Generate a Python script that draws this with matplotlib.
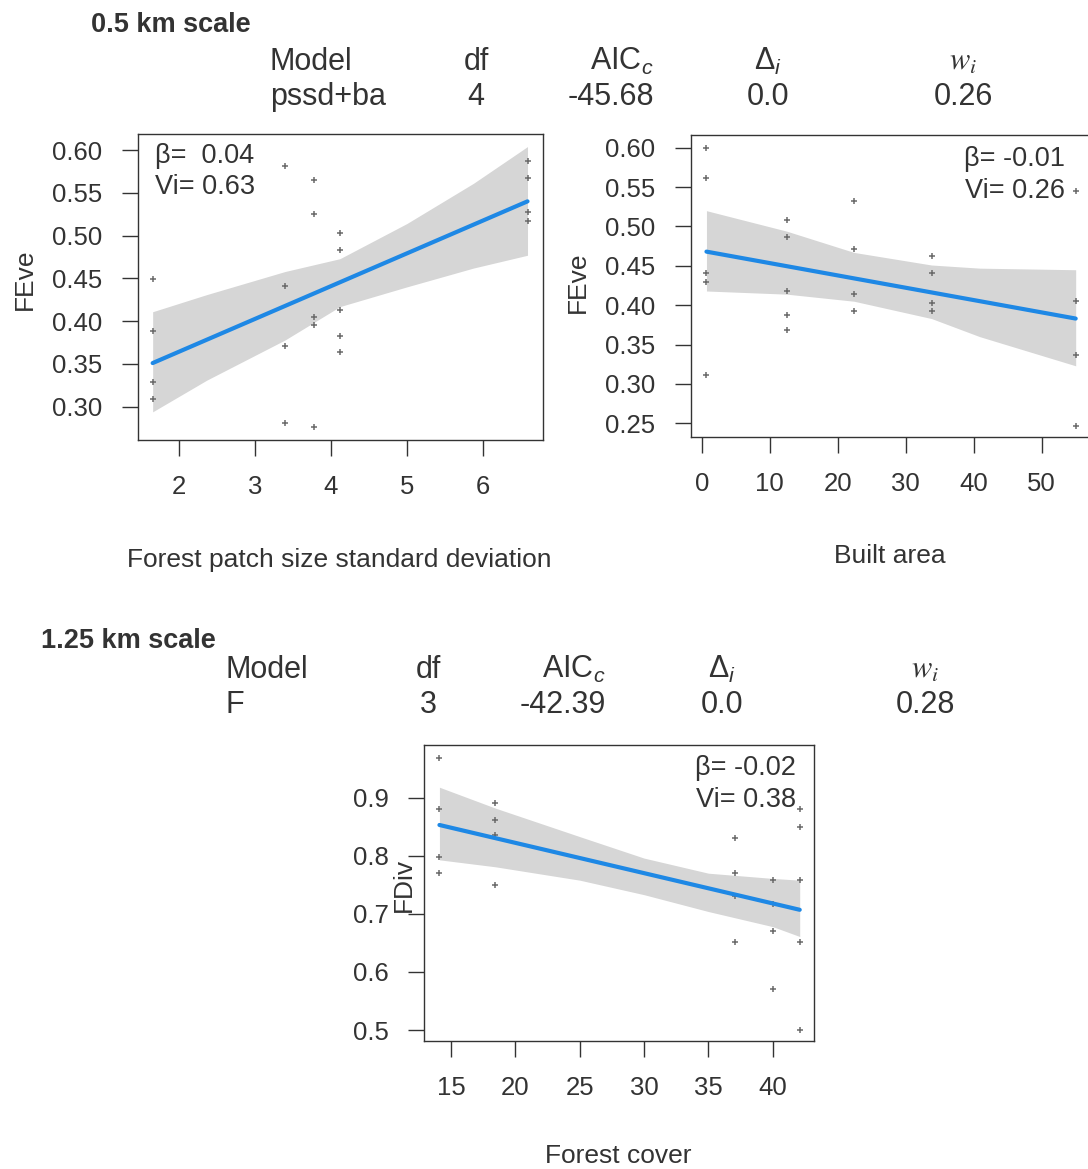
import matplotlib
matplotlib.use("Agg")
import matplotlib.pyplot as plt

# ---------------- data ----------------
# Panel 1 (0.5 km): FEve vs forest patch size standard deviation
p1_x = [1.66, 1.66, 1.66, 1.66,
        3.40, 3.40, 3.40, 3.40,
        3.78, 3.78, 3.78, 3.78, 3.78,
        4.12, 4.12, 4.12, 4.12, 4.12,
        6.59, 6.59, 6.59, 6.59]
p1_y = [0.449, 0.389, 0.329, 0.309,
        0.581, 0.441, 0.371, 0.281,
        0.565, 0.525, 0.405, 0.396, 0.276,
        0.503, 0.483, 0.413, 0.383, 0.364,
        0.587, 0.567, 0.527, 0.517]
p1_fit_x = [1.653, 6.59]
p1_fit_y = [0.351, 0.540]
p1_band_x = [1.653, 2.365, 3.397, 4.12, 5.0, 5.877, 6.59]
p1_band_hi = [0.411, 0.431, 0.458, 0.473, 0.514, 0.561, 0.604]
p1_band_lo = [0.294, 0.331, 0.378, 0.417, 0.440, 0.462, 0.477]
p1_xticks = [2, 3, 4, 5, 6]
p1_yticks = [0.30, 0.35, 0.40, 0.45, 0.50, 0.55, 0.60]

# Panel 2 (0.5 km): FEve vs built area
p2_x = [0.7, 0.7, 0.7, 0.7, 0.7,
        12.5, 12.5, 12.5, 12.5, 12.5,
        22.4, 22.4, 22.4, 22.4,
        33.8, 33.8, 33.8, 33.8,
        55.0, 55.0, 55.0, 55.0]
p2_y = [0.600, 0.562, 0.441, 0.430, 0.311,
        0.508, 0.486, 0.418, 0.388, 0.369,
        0.532, 0.471, 0.414, 0.392,
        0.463, 0.441, 0.403, 0.392,
        0.545, 0.405, 0.337, 0.247]
p2_fit_x = [0.7, 55.0]
p2_fit_y = [0.468, 0.383]
p2_band_x = [0.7, 12.5, 22.4, 33.8, 40.9, 55.0]
p2_band_hi = [0.520, 0.494, 0.467, 0.451, 0.447, 0.445]
p2_band_lo = [0.418, 0.414, 0.405, 0.383, 0.360, 0.323]
p2_xticks = [0, 10, 20, 30, 40, 50]
p2_yticks = [0.25, 0.30, 0.35, 0.40, 0.45, 0.50, 0.55, 0.60]

# Panel 3 (1.25 km): FDiv vs forest cover
p3_x = [14.1, 14.1, 14.1, 14.1,
        18.45, 18.45, 18.45, 18.45,
        37.1, 37.1, 37.1, 37.1,
        40.0, 40.0, 40.0, 40.0,
        42.1, 42.1, 42.1, 42.1, 42.1]
p3_y = [0.968, 0.880, 0.798, 0.770,
        0.890, 0.861, 0.836, 0.750,
        0.830, 0.770, 0.731, 0.651,
        0.758, 0.717, 0.671, 0.571,
        0.880, 0.849, 0.758, 0.651, 0.500]
p3_fit_x = [14.1, 42.1]
p3_fit_y = [0.853, 0.707]
p3_band_x = [14.1, 18.45, 25, 30, 35, 40, 42.1]
p3_band_hi = [0.918, 0.882, 0.833, 0.796, 0.770, 0.761, 0.758]
p3_band_lo = [0.793, 0.781, 0.758, 0.733, 0.704, 0.678, 0.661]
p3_xticks = [15, 20, 25, 30, 35, 40]
p3_yticks = [0.5, 0.6, 0.7, 0.8, 0.9]

# Model-selection tables
table_head = ["Model", "df", "AIC$_c$", "Δ$_i$", "$w_i$"]
table1_row = ["pssd+ba", "4", "-45.68", "0.0", "0.26"]
table2_row = ["F", "3", "-42.39", "0.0", "0.28"]
stats1 = ["β=  0.04", "Vi= 0.63"]
stats2 = ["β= -0.01", "Vi= 0.26"]
stats3 = ["β= -0.02", "Vi= 0.38"]

# ---------------- styling ----------------
W, H = 1088, 1169
plt.rcParams['font.family'] = ['Liberation Sans', 'DejaVu Sans']
plt.rcParams['mathtext.fontset'] = 'custom'
plt.rcParams['mathtext.rm'] = 'Liberation Sans'
plt.rcParams['mathtext.it'] = 'Liberation Sans:italic'
plt.rcParams['mathtext.bf'] = 'Liberation Sans:bold'

TXT = '#333333'
LINE = '#1E88E5'
BAND = '#D6D6D6'
PT = '#6a6a6a'
FS = 18.5      # tick labels
LFS = 19       # axis labels
SFS = 19.5     # stats annotations
TFS = 22       # table text
HFS = 19.5     # section titles

fig = plt.figure(figsize=(W / 100, H / 100), dpi=100)


def ax_px(L, R, T, B):
    return fig.add_axes([L / W, 1 - B / H, (R - L) / W, (B - T) / H])


def ftext(x, y, s, **kw):
    kw.setdefault('color', TXT)
    return fig.text(x / W, 1 - y / H, s, **kw)


def panel(ax, xs, ys, fx, fy, bx, bhi, blo, xt, yt, yfmt, xlim, ylim):
    ax.fill_between(bx, blo, bhi, color=BAND, lw=0, zorder=1)
    ax.plot(fx, fy, color=LINE, lw=3.0, solid_capstyle='round', zorder=3)
    ax.plot(xs, ys, ls='none', marker='+', ms=4, mew=1.1, color=PT, zorder=2)
    ax.set_xlim(*xlim)
    ax.set_ylim(*ylim)
    ax.set_xticks(xt)
    ax.set_xticklabels([str(v) for v in xt])
    ax.set_yticks(yt)
    ax.set_yticklabels([yfmt.format(v) for v in yt])
    ax.tick_params(length=11.5, width=1.0, pad=14, color=TXT,
                   labelcolor=TXT, labelsize=FS, direction='out')
    for s in ax.spines.values():
        s.set_color(TXT)
        s.set_linewidth(1.0)


ax1 = ax_px(138, 543, 134, 440)
panel(ax1, p1_x, p1_y, p1_fit_x, p1_fit_y, p1_band_x, p1_band_hi, p1_band_lo,
      p1_xticks, p1_yticks, "{:.2f}", (1.46, 6.794), (0.2611, 0.6187))

ax2 = ax_px(691, 1092, 135, 437)
panel(ax2, p2_x, p2_y, p2_fit_x, p2_fit_y, p2_band_x, p2_band_hi, p2_band_lo,
      p2_xticks, p2_yticks, "{:.2f}", (-1.574, 57.4), (0.2326, 0.6161))

ax3 = ax_px(424, 814, 745, 1041)
panel(ax3, p3_x, p3_y, p3_fit_x, p3_fit_y, p3_band_x, p3_band_hi, p3_band_lo,
      p3_xticks, p3_yticks, "{:.1f}", (12.90, 43.21), (0.4811, 0.9907))

# axis labels
ftext(339, 567, "Forest patch size standard deviation", fontsize=LFS, ha='center', va='baseline')
ftext(890, 563, "Built area", fontsize=LFS, ha='center', va='baseline')
ftext(618, 1163, "Forest cover", fontsize=LFS, ha='center', va='baseline')
ftext(25, 279, "FEve", fontsize=LFS, rotation=90, ha='center', va='center')
ftext(578, 282, "FEve", fontsize=LFS, rotation=90, ha='center', va='center')
ftext(404, 885, "FDiv", fontsize=LFS, rotation=90, ha='center', va='center')

# stats annotations
ftext(155, 163, stats1[0], fontsize=SFS, ha='left', va='baseline')
ftext(155, 194, stats1[1], fontsize=SFS, ha='left', va='baseline')
ftext(1065, 166, stats2[0], fontsize=SFS, ha='right', va='baseline')
ftext(1065, 198, stats2[1], fontsize=SFS, ha='right', va='baseline')
ftext(796, 775, stats3[0], fontsize=SFS, ha='right', va='baseline')
ftext(796, 807, stats3[1], fontsize=SFS, ha='right', va='baseline')

# section titles
ftext(91, 32, "0.5 km scale", fontsize=HFS, fontweight='bold', ha='left', va='baseline')
ftext(41, 648, "1.25 km scale", fontsize=HFS, fontweight='bold', ha='left', va='baseline')


def table(xs, aligns, y_head, y_row, row):
    for i, (x, al) in enumerate(zip(xs, aligns)):
        kw = dict(fontsize=TFS, ha=al, va='baseline')
        if i == 4:
            kw['math_fontfamily'] = 'stix'
        ftext(x, y_head, table_head[i], **kw)
        ftext(x, y_row, row[i], fontsize=TFS, ha=al, va='baseline')


aligns = ['left', 'center', 'right', 'center', 'center']
table([270, 476, 654, 768, 963], aligns, 70, 105, table1_row)
table([225, 428, 606, 722, 925], aligns, 678, 713, table2_row)

fig.savefig("out.png", dpi=100, facecolor='white')
